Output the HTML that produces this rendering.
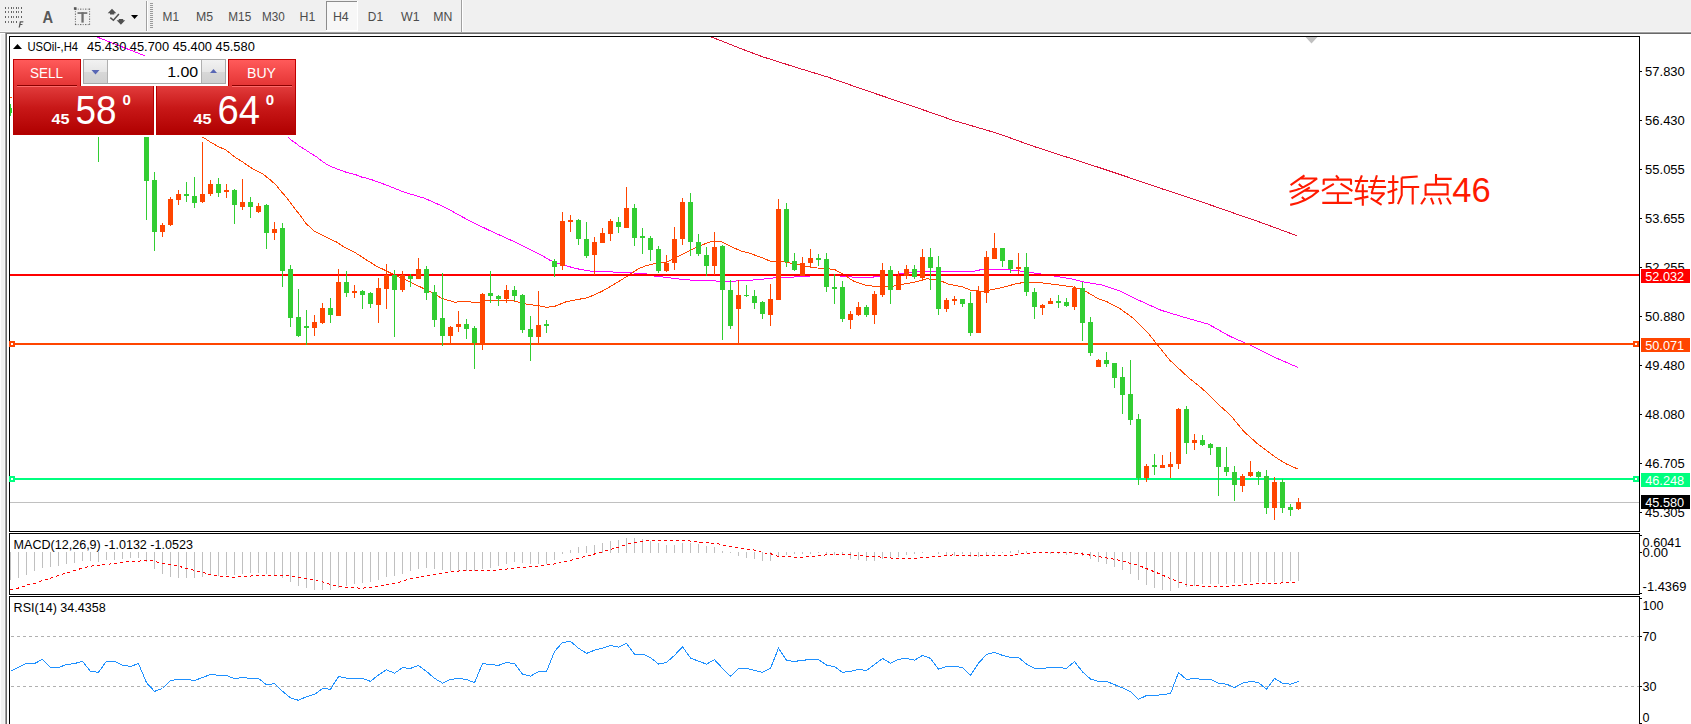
<!DOCTYPE html><html><head><meta charset="utf-8"><title>USOil H4</title><style>
html,body{margin:0;padding:0;background:#f0f0f0;overflow:hidden;width:1691px;height:724px;}
svg{display:block;font-family:"Liberation Sans", sans-serif;}
</style></head><body>
<svg width="1691" height="724" viewBox="0 0 1691 724">
<rect x="0" y="0" width="1691" height="724" fill="#f0f0f0"/>
<g shape-rendering="crispEdges">
<rect x="0" y="31" width="1691" height="1" fill="#f8f8f8"/>
<rect x="0" y="32" width="1691" height="1" fill="#a0a0a0"/>
<rect x="0" y="33" width="5" height="1" fill="#ffffff"/>
<rect x="6" y="33" width="1685" height="1" fill="#696969"/>
<rect x="5" y="32" width="1" height="692" fill="#a0a0a0"/>
<rect x="6" y="33" width="1" height="691" fill="#696969"/>
<rect x="4" y="34" width="1" height="690" fill="#f6f6f6"/>
<rect x="0" y="34" width="1" height="690" fill="#fcfcfc"/>
<rect x="7" y="34" width="1684" height="690" fill="#ffffff"/>
</g>
<g shape-rendering="crispEdges"><rect x="146" y="1" width="1" height="30" fill="#a0a0a0"/><rect x="147" y="1" width="1" height="30" fill="#ffffff"/><rect x="461" y="0" width="1" height="32" fill="#a0a0a0"/><rect x="462" y="0" width="1" height="32" fill="#ffffff"/><rect x="150" y="3" width="3" height="1" fill="#9a9a9a"/><rect x="150" y="5" width="3" height="1" fill="#9a9a9a"/><rect x="150" y="7" width="3" height="1" fill="#9a9a9a"/><rect x="150" y="9" width="3" height="1" fill="#9a9a9a"/><rect x="150" y="11" width="3" height="1" fill="#9a9a9a"/><rect x="150" y="13" width="3" height="1" fill="#9a9a9a"/><rect x="150" y="15" width="3" height="1" fill="#9a9a9a"/><rect x="150" y="17" width="3" height="1" fill="#9a9a9a"/><rect x="150" y="19" width="3" height="1" fill="#9a9a9a"/><rect x="150" y="21" width="3" height="1" fill="#9a9a9a"/><rect x="150" y="23" width="3" height="1" fill="#9a9a9a"/><rect x="150" y="25" width="3" height="1" fill="#9a9a9a"/><rect x="150" y="27" width="3" height="1" fill="#9a9a9a"/><rect x="326" y="1" width="32" height="30" fill="#ffffff"/><rect x="326" y="1" width="31" height="29" fill="#8c8c8c"/><rect x="327" y="2" width="30" height="28" fill="#f7f7f7"/></g>
<text x="162.5" y="21" font-size="12.3" fill="#4c4c4c" textLength="16.5" lengthAdjust="spacingAndGlyphs">M1</text>
<text x="196.1" y="21" font-size="12.3" fill="#4c4c4c" textLength="17.1" lengthAdjust="spacingAndGlyphs">M5</text>
<text x="228.3" y="21" font-size="12.3" fill="#4c4c4c" textLength="22.9" lengthAdjust="spacingAndGlyphs">M15</text>
<text x="262.1" y="21" font-size="12.3" fill="#4c4c4c" textLength="22.7" lengthAdjust="spacingAndGlyphs">M30</text>
<text x="299.5" y="21" font-size="12.3" fill="#4c4c4c" textLength="15.8" lengthAdjust="spacingAndGlyphs">H1</text>
<text x="332.9" y="21" font-size="12.3" fill="#4c4c4c" textLength="15.8" lengthAdjust="spacingAndGlyphs">H4</text>
<text x="367.8" y="21" font-size="12.3" fill="#4c4c4c" textLength="15.2" lengthAdjust="spacingAndGlyphs">D1</text>
<text x="401.0" y="21" font-size="12.3" fill="#4c4c4c" textLength="18.5" lengthAdjust="spacingAndGlyphs">W1</text>
<text x="433.2" y="21" font-size="12.3" fill="#4c4c4c" textLength="19.1" lengthAdjust="spacingAndGlyphs">MN</text>
<g><rect x="5" y="7" width="1" height="2" fill="#606060"/><rect x="8" y="7" width="1" height="2" fill="#808080"/><rect x="11" y="7" width="1" height="2" fill="#606060"/><rect x="13" y="7" width="1" height="2" fill="#808080"/><rect x="16" y="7" width="1" height="2" fill="#606060"/><rect x="18" y="7" width="1" height="2" fill="#808080"/><rect x="21" y="7" width="1" height="2" fill="#606060"/><rect x="5" y="11" width="1" height="2" fill="#606060"/><rect x="8" y="11" width="1" height="2" fill="#808080"/><rect x="11" y="11" width="1" height="2" fill="#606060"/><rect x="13" y="11" width="1" height="2" fill="#808080"/><rect x="16" y="11" width="1" height="2" fill="#606060"/><rect x="18" y="11" width="1" height="2" fill="#808080"/><rect x="21" y="11" width="1" height="2" fill="#606060"/><rect x="5" y="16" width="1" height="2" fill="#606060"/><rect x="8" y="16" width="1" height="2" fill="#808080"/><rect x="11" y="16" width="1" height="2" fill="#606060"/><rect x="13" y="16" width="1" height="2" fill="#808080"/><rect x="16" y="16" width="1" height="2" fill="#606060"/><rect x="18" y="16" width="1" height="2" fill="#808080"/><rect x="21" y="16" width="1" height="2" fill="#606060"/><rect x="5" y="21" width="1" height="2" fill="#606060"/><rect x="8" y="21" width="1" height="2" fill="#808080"/><rect x="11" y="21" width="1" height="2" fill="#606060"/><rect x="13" y="21" width="1" height="2" fill="#808080"/><rect x="16" y="21" width="1" height="2" fill="#606060"/></g>
<path d="M18.6,27.6 L19.8,21.2 L23.4,21.2 L23.2,22.4 L20.9,22.4 L20.6,24 L22.5,24 L22.3,25 L20.4,25 L19.9,27.6 Z" fill="#585858"/>
<text x="42.6" y="22.8" font-size="16.4" font-weight="bold" fill="#585858" textLength="10.6" lengthAdjust="spacingAndGlyphs">A</text>
<g><rect x="75.20" y="8.6" width="1.1" height="1.1" fill="#505050"/><rect x="75.20" y="24" width="1.1" height="1.1" fill="#505050"/><rect x="77.70" y="8.6" width="1.1" height="1.1" fill="#8a8a8a"/><rect x="77.70" y="24" width="1.1" height="1.1" fill="#8a8a8a"/><rect x="80.20" y="8.6" width="1.1" height="1.1" fill="#505050"/><rect x="80.20" y="24" width="1.1" height="1.1" fill="#505050"/><rect x="82.70" y="8.6" width="1.1" height="1.1" fill="#8a8a8a"/><rect x="82.70" y="24" width="1.1" height="1.1" fill="#8a8a8a"/><rect x="85.20" y="8.6" width="1.1" height="1.1" fill="#505050"/><rect x="85.20" y="24" width="1.1" height="1.1" fill="#505050"/><rect x="87.70" y="8.6" width="1.1" height="1.1" fill="#8a8a8a"/><rect x="87.70" y="24" width="1.1" height="1.1" fill="#8a8a8a"/><rect x="74.9" y="8.60" width="1.1" height="1.1" fill="#505050"/><rect x="89" y="8.60" width="1.1" height="1.1" fill="#505050"/><rect x="74.9" y="11.10" width="1.1" height="1.1" fill="#8a8a8a"/><rect x="89" y="11.10" width="1.1" height="1.1" fill="#8a8a8a"/><rect x="74.9" y="13.60" width="1.1" height="1.1" fill="#505050"/><rect x="89" y="13.60" width="1.1" height="1.1" fill="#505050"/><rect x="74.9" y="16.10" width="1.1" height="1.1" fill="#8a8a8a"/><rect x="89" y="16.10" width="1.1" height="1.1" fill="#8a8a8a"/><rect x="74.9" y="18.60" width="1.1" height="1.1" fill="#505050"/><rect x="89" y="18.60" width="1.1" height="1.1" fill="#505050"/><rect x="74.9" y="21.10" width="1.1" height="1.1" fill="#8a8a8a"/><rect x="89" y="21.10" width="1.1" height="1.1" fill="#8a8a8a"/><rect x="74.9" y="23.60" width="1.1" height="1.1" fill="#505050"/><rect x="89" y="23.60" width="1.1" height="1.1" fill="#505050"/></g>
<rect x="73.9" y="7.2" width="2.6" height="2.6" fill="#555"/>
<rect x="77.5" y="12.2" width="9.8" height="1.7" fill="#707070"/>
<rect x="81.4" y="12.2" width="2.3" height="10.4" fill="#707070"/>
<path d="M107.7,13.3 L112,8.7 L116.3,13.3 L114.3,13.3 L114.3,14.6 L110,14.6 L110,13.3 Z" fill="#505050"/>
<path d="M116.6,20.2 L118.8,20.2 L118.8,19 L123.2,19 L123.2,20.2 L125.2,20.2 L120.9,24.8 Z" fill="#505050"/>
<path d="M110.3,17.6 L113.4,20.3 L118.9,14" fill="none" stroke="#505050" stroke-width="1.5"/>
<path d="M131,14.9 L138.1,14.9 L134.55,18.9 Z" fill="#000"/>
<g shape-rendering="crispEdges">
<rect x="9.5" y="36.5" width="1630" height="495" fill="none" stroke="#000" stroke-width="1"/>
<rect x="9.5" y="533.5" width="1630" height="61" fill="none" stroke="#000" stroke-width="1"/>
<rect x="9.5" y="596.5" width="1630" height="140" fill="none" stroke="#000" stroke-width="1"/>
</g>
<g font-size="12.3" fill="#000">
<rect x="1640" y="71" width="2" height="1" fill="#000" shape-rendering="crispEdges"/>
<text x="1645.1" y="76" textLength="39.7" lengthAdjust="spacingAndGlyphs">57.830</text>
<rect x="1640" y="120" width="2" height="1" fill="#000" shape-rendering="crispEdges"/>
<text x="1645.1" y="125" textLength="39.7" lengthAdjust="spacingAndGlyphs">56.430</text>
<rect x="1640" y="169" width="2" height="1" fill="#000" shape-rendering="crispEdges"/>
<text x="1645.1" y="174" textLength="39.7" lengthAdjust="spacingAndGlyphs">55.055</text>
<rect x="1640" y="218" width="2" height="1" fill="#000" shape-rendering="crispEdges"/>
<text x="1645.1" y="223" textLength="39.7" lengthAdjust="spacingAndGlyphs">53.655</text>
<rect x="1640" y="267" width="2" height="1" fill="#000" shape-rendering="crispEdges"/>
<text x="1645.1" y="272" textLength="39.7" lengthAdjust="spacingAndGlyphs">52.255</text>
<rect x="1640" y="316" width="2" height="1" fill="#000" shape-rendering="crispEdges"/>
<text x="1645.1" y="321" textLength="39.7" lengthAdjust="spacingAndGlyphs">50.880</text>
<rect x="1640" y="365" width="2" height="1" fill="#000" shape-rendering="crispEdges"/>
<text x="1645.1" y="370" textLength="39.7" lengthAdjust="spacingAndGlyphs">49.480</text>
<rect x="1640" y="414" width="2" height="1" fill="#000" shape-rendering="crispEdges"/>
<text x="1645.1" y="419" textLength="39.7" lengthAdjust="spacingAndGlyphs">48.080</text>
<rect x="1640" y="463" width="2" height="1" fill="#000" shape-rendering="crispEdges"/>
<text x="1645.1" y="468" textLength="39.7" lengthAdjust="spacingAndGlyphs">46.705</text>
<rect x="1640" y="512" width="2" height="1" fill="#000" shape-rendering="crispEdges"/>
<text x="1645.1" y="517" textLength="39.7" lengthAdjust="spacingAndGlyphs">45.305</text>
</g>
<defs><clipPath id="cm"><rect x="10" y="37" width="1629" height="494"/></clipPath><clipPath id="cmacd"><rect x="10" y="534" width="1629" height="60"/></clipPath><clipPath id="crsi"><rect x="10" y="597" width="1629" height="127"/></clipPath></defs>
<g clip-path="url(#cm)" fill="none" stroke-width="1">
<polyline points="709.5,36.2 740.8,48.6 762.1,56.6 795.8,67.3 827.7,77.0 866.8,90.7 912.9,106.3 953.7,120.5 983.8,129.3 1000.0,134.2 1034.0,146.5 1066.2,156.9 1098.4,167.3 1132.5,178.7 1162.8,189.1 1194.9,199.5 1227.1,210.8 1257.4,221.2 1297.1,235.8" stroke="#dc143c" shape-rendering="crispEdges"/>
</g>
<g clip-path="url(#cm)" fill="none" stroke-width="1" shape-rendering="crispEdges">
<polyline points="288.3,137.3 291.6,140.4 295.8,143.3 299.5,146.2 304.9,149.5 308.2,151.7 312.3,154.4 316.1,156.5 319.8,159.4 323.5,162.3 328.9,165.6 333.9,167.7 338.0,169.4 346.3,172.3 351.3,173.5 357.1,175.2 362.0,177.2 367.8,178.5 372.8,180.1 378.6,182.2 384.4,184.3 404.3,192.2 425.0,198.4 445.7,207.7 466.4,219.1 487.2,229.4 507.9,238.8 521.9,245.3 539.7,254.2 550.3,260.4 557.4,263.1 575.1,268.4 592.9,271.6 610.6,271.9 628.4,272.8 644.3,273.4 654.2,276.0 671.9,278.1 686.1,279.9 702.1,280.4 719.8,281.2 732.2,281.2 755.3,279.9 774.8,277.8 796.1,276.9 817.4,275.5 835.1,275.5 844.0,276.4 861.7,277.8 870.6,277.3 879.5,276.4 897.2,274.1 915.0,271.9 930.0,271.3 973.8,271.3 983.2,269.2 1005.7,269.2 1012.8,270.3 1024.6,271.5 1038.8,273.7 1054.2,276.0 1071.9,279.0 1083.8,281.9 1101.5,284.9 1119.2,290.8 1136.6,299.3 1161.4,310.4 1189.0,318.7 1208.4,324.2 1230.5,336.6 1249.8,344.9 1274.7,357.3 1298.1,367.5" stroke="#ff00ff"/>
<polyline points="97.0,37.0 145.4,56.0" stroke="#ff00ff"/>
<polyline points="10.0,97.5 14.0,98.0 20.0,99.0 203.0,137.2 210.3,142.1 219.0,146.9 225.7,149.8 235.4,157.5 244.1,162.9 250.9,167.7 263.4,174.4 270.2,179.8 277.0,186.0 280.0,190.2 286.6,197.5 294.4,208.0 301.0,216.5 306.2,223.7 314.1,230.9 323.3,235.5 336.4,242.0 345.6,248.0 356.1,253.2 365.2,259.1 375.7,265.7 384.9,270.2 391.5,273.5 394.2,274.6 406.6,280.4 424.3,288.8 433.2,293.2 442.1,298.5 454.5,302.1 465.1,301.7 477.6,302.4 486.4,300.7 513.0,300.7 525.5,303.9 539.7,306.0 546.8,307.4 555.6,306.0 566.3,301.7 575.1,300.0 587.6,297.7 601.8,291.4 614.2,284.3 628.4,275.5 639.0,268.4 646.1,265.7 656.7,263.1 666.6,262.2 675.5,257.7 693.2,248.9 707.4,242.7 714.5,240.9 721.6,241.8 732.2,247.1 741.1,251.0 750.0,253.3 764.2,258.6 771.3,261.6 778.4,260.9 790.8,263.1 803.2,265.7 817.4,268.0 828.0,268.7 835.1,269.8 844.0,274.6 852.9,280.8 865.3,285.2 879.5,287.0 891.9,286.5 902.6,284.3 916.7,281.7 927.4,278.7 940.6,280.8 948.9,284.3 961.9,286.7 971.4,290.4 983.2,291.4 1001.0,287.8 1018.7,283.1 1036.4,282.2 1048.3,283.7 1060.1,285.2 1071.9,286.7 1083.8,290.2 1097.9,298.5 1107.4,302.0 1119.2,308.0 1133.8,318.7 1147.6,332.5 1158.7,346.3 1169.7,360.1 1189.0,378.0 1202.8,389.1 1216.7,402.9 1230.5,415.3 1244.3,431.9 1258.1,444.3 1274.7,456.7 1285.7,463.6 1298.1,469.2" stroke="#ff4500"/>
</g>
<g shape-rendering="crispEdges">
<rect x="10" y="274" width="1629" height="2" fill="#ff0000"/>
<rect x="10" y="343" width="1623" height="2" fill="#ff4500"/>
<rect x="10" y="478" width="1623" height="2" fill="#00ff7f"/>
<rect x="10" y="502" width="1629" height="1" fill="#c0c0c0"/>
</g>
<g shape-rendering="crispEdges" clip-path="url(#cm)"><rect x="10" y="104" width="1" height="12" fill="#32cd32"/><rect x="8" y="108" width="5" height="5" fill="#32cd32"/><rect x="98" y="120" width="1" height="42" fill="#32cd32"/><rect x="96" y="122" width="5" height="8" fill="#32cd32"/><rect x="146" y="120" width="1" height="100" fill="#32cd32"/><rect x="144" y="122" width="5" height="59" fill="#32cd32"/><rect x="154" y="172" width="1" height="79" fill="#32cd32"/><rect x="152" y="180" width="5" height="52" fill="#32cd32"/><rect x="162" y="223" width="1" height="14" fill="#ff4500"/><rect x="160" y="225" width="5" height="7" fill="#ff4500"/><rect x="170" y="197" width="1" height="29" fill="#ff4500"/><rect x="168" y="199" width="5" height="26" fill="#ff4500"/><rect x="178" y="190" width="1" height="15" fill="#ff4500"/><rect x="176" y="194" width="5" height="6" fill="#ff4500"/><rect x="186" y="182" width="1" height="20" fill="#32cd32"/><rect x="184" y="194" width="5" height="2" fill="#32cd32"/><rect x="194" y="177" width="1" height="31" fill="#32cd32"/><rect x="192" y="196" width="5" height="7" fill="#32cd32"/><rect x="202" y="142" width="1" height="61" fill="#ff4500"/><rect x="200" y="194" width="5" height="8" fill="#ff4500"/><rect x="210" y="180" width="1" height="16" fill="#ff4500"/><rect x="208" y="184" width="5" height="10" fill="#ff4500"/><rect x="218" y="178" width="1" height="19" fill="#32cd32"/><rect x="216" y="184" width="5" height="9" fill="#32cd32"/><rect x="226" y="184" width="1" height="14" fill="#ff4500"/><rect x="224" y="190" width="5" height="2" fill="#ff4500"/><rect x="234" y="189" width="1" height="35" fill="#32cd32"/><rect x="232" y="190" width="5" height="15" fill="#32cd32"/><rect x="242" y="179" width="1" height="31" fill="#ff4500"/><rect x="240" y="202" width="5" height="5" fill="#ff4500"/><rect x="250" y="197" width="1" height="21" fill="#32cd32"/><rect x="248" y="202" width="5" height="5" fill="#32cd32"/><rect x="258" y="203" width="1" height="10" fill="#ff4500"/><rect x="256" y="206" width="5" height="6" fill="#ff4500"/><rect x="266" y="204" width="1" height="45" fill="#32cd32"/><rect x="264" y="205" width="5" height="28" fill="#32cd32"/><rect x="274" y="222" width="1" height="18" fill="#ff4500"/><rect x="272" y="229" width="5" height="4" fill="#ff4500"/><rect x="282" y="223" width="1" height="64" fill="#32cd32"/><rect x="280" y="228" width="5" height="43" fill="#32cd32"/><rect x="290" y="265" width="1" height="62" fill="#32cd32"/><rect x="288" y="269" width="5" height="49" fill="#32cd32"/><rect x="298" y="289" width="1" height="48" fill="#32cd32"/><rect x="296" y="317" width="5" height="19" fill="#32cd32"/><rect x="306" y="310" width="1" height="35" fill="#32cd32"/><rect x="304" y="326" width="5" height="2" fill="#32cd32"/><rect x="314" y="315" width="1" height="21" fill="#ff4500"/><rect x="312" y="322" width="5" height="6" fill="#ff4500"/><rect x="322" y="303" width="1" height="21" fill="#ff4500"/><rect x="320" y="308" width="5" height="15" fill="#ff4500"/><rect x="330" y="298" width="1" height="25" fill="#32cd32"/><rect x="328" y="308" width="5" height="7" fill="#32cd32"/><rect x="338" y="269" width="1" height="47" fill="#ff4500"/><rect x="336" y="282" width="5" height="34" fill="#ff4500"/><rect x="346" y="271" width="1" height="26" fill="#32cd32"/><rect x="344" y="282" width="5" height="11" fill="#32cd32"/><rect x="354" y="285" width="1" height="13" fill="#ff4500"/><rect x="352" y="291" width="5" height="2" fill="#ff4500"/><rect x="362" y="290" width="1" height="19" fill="#32cd32"/><rect x="360" y="291" width="5" height="4" fill="#32cd32"/><rect x="370" y="292" width="1" height="16" fill="#32cd32"/><rect x="368" y="293" width="5" height="11" fill="#32cd32"/><rect x="378" y="278" width="1" height="45" fill="#ff4500"/><rect x="376" y="288" width="5" height="17" fill="#ff4500"/><rect x="386" y="264" width="1" height="45" fill="#ff4500"/><rect x="384" y="275" width="5" height="14" fill="#ff4500"/><rect x="394" y="270" width="1" height="67" fill="#32cd32"/><rect x="392" y="275" width="5" height="15" fill="#32cd32"/><rect x="402" y="271" width="1" height="21" fill="#ff4500"/><rect x="400" y="275" width="5" height="15" fill="#ff4500"/><rect x="410" y="274" width="1" height="13" fill="#32cd32"/><rect x="408" y="276" width="5" height="3" fill="#32cd32"/><rect x="418" y="258" width="1" height="21" fill="#ff4500"/><rect x="416" y="269" width="5" height="10" fill="#ff4500"/><rect x="426" y="266" width="1" height="34" fill="#32cd32"/><rect x="424" y="269" width="5" height="24" fill="#32cd32"/><rect x="434" y="285" width="1" height="42" fill="#32cd32"/><rect x="432" y="292" width="5" height="28" fill="#32cd32"/><rect x="442" y="273" width="1" height="73" fill="#32cd32"/><rect x="440" y="318" width="5" height="18" fill="#32cd32"/><rect x="450" y="326" width="1" height="17" fill="#ff4500"/><rect x="448" y="327" width="5" height="9" fill="#ff4500"/><rect x="458" y="311" width="1" height="21" fill="#ff4500"/><rect x="456" y="324" width="5" height="3" fill="#ff4500"/><rect x="466" y="319" width="1" height="20" fill="#32cd32"/><rect x="464" y="324" width="5" height="5" fill="#32cd32"/><rect x="474" y="326" width="1" height="43" fill="#32cd32"/><rect x="472" y="328" width="5" height="15" fill="#32cd32"/><rect x="482" y="293" width="1" height="57" fill="#ff4500"/><rect x="480" y="294" width="5" height="50" fill="#ff4500"/><rect x="490" y="271" width="1" height="32" fill="#32cd32"/><rect x="488" y="293" width="5" height="3" fill="#32cd32"/><rect x="498" y="295" width="1" height="11" fill="#32cd32"/><rect x="496" y="296" width="5" height="3" fill="#32cd32"/><rect x="506" y="285" width="1" height="18" fill="#ff4500"/><rect x="504" y="290" width="5" height="9" fill="#ff4500"/><rect x="514" y="286" width="1" height="15" fill="#32cd32"/><rect x="512" y="290" width="5" height="6" fill="#32cd32"/><rect x="522" y="294" width="1" height="39" fill="#32cd32"/><rect x="520" y="295" width="5" height="35" fill="#32cd32"/><rect x="530" y="316" width="1" height="45" fill="#32cd32"/><rect x="528" y="329" width="5" height="8" fill="#32cd32"/><rect x="538" y="291" width="1" height="52" fill="#ff4500"/><rect x="536" y="325" width="5" height="12" fill="#ff4500"/><rect x="546" y="320" width="1" height="13" fill="#32cd32"/><rect x="544" y="324" width="5" height="2" fill="#32cd32"/><rect x="554" y="259" width="1" height="18" fill="#32cd32"/><rect x="552" y="261" width="5" height="6" fill="#32cd32"/><rect x="562" y="212" width="1" height="58" fill="#ff4500"/><rect x="560" y="221" width="5" height="45" fill="#ff4500"/><rect x="570" y="215" width="1" height="17" fill="#ff4500"/><rect x="568" y="220" width="5" height="2" fill="#ff4500"/><rect x="578" y="219" width="1" height="26" fill="#32cd32"/><rect x="576" y="220" width="5" height="19" fill="#32cd32"/><rect x="586" y="222" width="1" height="36" fill="#32cd32"/><rect x="584" y="239" width="5" height="17" fill="#32cd32"/><rect x="594" y="237" width="1" height="38" fill="#ff4500"/><rect x="592" y="242" width="5" height="13" fill="#ff4500"/><rect x="602" y="228" width="1" height="15" fill="#ff4500"/><rect x="600" y="233" width="5" height="10" fill="#ff4500"/><rect x="610" y="219" width="1" height="22" fill="#ff4500"/><rect x="608" y="221" width="5" height="13" fill="#ff4500"/><rect x="618" y="217" width="1" height="16" fill="#32cd32"/><rect x="616" y="222" width="5" height="5" fill="#32cd32"/><rect x="626" y="187" width="1" height="41" fill="#ff4500"/><rect x="624" y="208" width="5" height="20" fill="#ff4500"/><rect x="634" y="204" width="1" height="42" fill="#32cd32"/><rect x="632" y="208" width="5" height="30" fill="#32cd32"/><rect x="642" y="228" width="1" height="26" fill="#32cd32"/><rect x="640" y="236" width="5" height="2" fill="#32cd32"/><rect x="650" y="236" width="1" height="25" fill="#32cd32"/><rect x="648" y="238" width="5" height="12" fill="#32cd32"/><rect x="658" y="246" width="1" height="27" fill="#32cd32"/><rect x="656" y="249" width="5" height="22" fill="#32cd32"/><rect x="666" y="255" width="1" height="17" fill="#ff4500"/><rect x="664" y="263" width="5" height="8" fill="#ff4500"/><rect x="674" y="227" width="1" height="43" fill="#ff4500"/><rect x="672" y="239" width="5" height="24" fill="#ff4500"/><rect x="682" y="198" width="1" height="47" fill="#ff4500"/><rect x="680" y="202" width="5" height="37" fill="#ff4500"/><rect x="690" y="193" width="1" height="63" fill="#32cd32"/><rect x="688" y="202" width="5" height="40" fill="#32cd32"/><rect x="698" y="234" width="1" height="22" fill="#32cd32"/><rect x="696" y="242" width="5" height="12" fill="#32cd32"/><rect x="706" y="247" width="1" height="29" fill="#32cd32"/><rect x="704" y="255" width="5" height="11" fill="#32cd32"/><rect x="714" y="232" width="1" height="43" fill="#ff4500"/><rect x="712" y="247" width="5" height="19" fill="#ff4500"/><rect x="722" y="245" width="1" height="95" fill="#32cd32"/><rect x="720" y="246" width="5" height="44" fill="#32cd32"/><rect x="730" y="280" width="1" height="49" fill="#32cd32"/><rect x="728" y="290" width="5" height="36" fill="#32cd32"/><rect x="738" y="280" width="1" height="63" fill="#ff4500"/><rect x="736" y="295" width="5" height="14" fill="#ff4500"/><rect x="746" y="285" width="1" height="12" fill="#32cd32"/><rect x="744" y="295" width="5" height="1" fill="#32cd32"/><rect x="754" y="290" width="1" height="19" fill="#32cd32"/><rect x="752" y="296" width="5" height="7" fill="#32cd32"/><rect x="762" y="301" width="1" height="18" fill="#32cd32"/><rect x="760" y="302" width="5" height="12" fill="#32cd32"/><rect x="770" y="284" width="1" height="42" fill="#ff4500"/><rect x="768" y="299" width="5" height="16" fill="#ff4500"/><rect x="778" y="199" width="1" height="101" fill="#ff4500"/><rect x="776" y="209" width="5" height="91" fill="#ff4500"/><rect x="786" y="203" width="1" height="64" fill="#32cd32"/><rect x="784" y="209" width="5" height="53" fill="#32cd32"/><rect x="794" y="253" width="1" height="18" fill="#32cd32"/><rect x="792" y="261" width="5" height="9" fill="#32cd32"/><rect x="802" y="257" width="1" height="19" fill="#ff4500"/><rect x="800" y="263" width="5" height="13" fill="#ff4500"/><rect x="810" y="249" width="1" height="19" fill="#ff4500"/><rect x="808" y="258" width="5" height="5" fill="#ff4500"/><rect x="818" y="254" width="1" height="12" fill="#32cd32"/><rect x="816" y="258" width="5" height="2" fill="#32cd32"/><rect x="826" y="253" width="1" height="39" fill="#32cd32"/><rect x="824" y="259" width="5" height="28" fill="#32cd32"/><rect x="834" y="274" width="1" height="30" fill="#32cd32"/><rect x="832" y="287" width="5" height="2" fill="#32cd32"/><rect x="842" y="281" width="1" height="41" fill="#32cd32"/><rect x="840" y="287" width="5" height="32" fill="#32cd32"/><rect x="850" y="311" width="1" height="18" fill="#ff4500"/><rect x="848" y="314" width="5" height="6" fill="#ff4500"/><rect x="858" y="302" width="1" height="14" fill="#ff4500"/><rect x="856" y="307" width="5" height="8" fill="#ff4500"/><rect x="866" y="305" width="1" height="12" fill="#32cd32"/><rect x="864" y="307" width="5" height="8" fill="#32cd32"/><rect x="874" y="291" width="1" height="33" fill="#ff4500"/><rect x="872" y="294" width="5" height="21" fill="#ff4500"/><rect x="882" y="263" width="1" height="34" fill="#ff4500"/><rect x="880" y="270" width="5" height="25" fill="#ff4500"/><rect x="890" y="266" width="1" height="38" fill="#32cd32"/><rect x="888" y="270" width="5" height="20" fill="#32cd32"/><rect x="898" y="271" width="1" height="19" fill="#ff4500"/><rect x="896" y="276" width="5" height="14" fill="#ff4500"/><rect x="906" y="265" width="1" height="14" fill="#ff4500"/><rect x="904" y="269" width="5" height="7" fill="#ff4500"/><rect x="914" y="265" width="1" height="14" fill="#32cd32"/><rect x="912" y="269" width="5" height="8" fill="#32cd32"/><rect x="922" y="249" width="1" height="31" fill="#ff4500"/><rect x="920" y="257" width="5" height="21" fill="#ff4500"/><rect x="930" y="248" width="1" height="42" fill="#32cd32"/><rect x="928" y="257" width="5" height="11" fill="#32cd32"/><rect x="938" y="256" width="1" height="59" fill="#32cd32"/><rect x="936" y="267" width="5" height="42" fill="#32cd32"/><rect x="946" y="298" width="1" height="14" fill="#ff4500"/><rect x="944" y="300" width="5" height="9" fill="#ff4500"/><rect x="954" y="296" width="1" height="9" fill="#ff4500"/><rect x="952" y="299" width="5" height="2" fill="#ff4500"/><rect x="962" y="299" width="1" height="8" fill="#32cd32"/><rect x="960" y="299" width="5" height="5" fill="#32cd32"/><rect x="970" y="292" width="1" height="44" fill="#32cd32"/><rect x="968" y="303" width="5" height="30" fill="#32cd32"/><rect x="978" y="286" width="1" height="47" fill="#ff4500"/><rect x="976" y="291" width="5" height="42" fill="#ff4500"/><rect x="986" y="251" width="1" height="52" fill="#ff4500"/><rect x="984" y="257" width="5" height="36" fill="#ff4500"/><rect x="994" y="233" width="1" height="26" fill="#ff4500"/><rect x="992" y="248" width="5" height="11" fill="#ff4500"/><rect x="1002" y="248" width="1" height="19" fill="#32cd32"/><rect x="1000" y="248" width="5" height="13" fill="#32cd32"/><rect x="1010" y="260" width="1" height="13" fill="#32cd32"/><rect x="1008" y="260" width="5" height="9" fill="#32cd32"/><rect x="1018" y="253" width="1" height="21" fill="#ff4500"/><rect x="1016" y="267" width="5" height="2" fill="#ff4500"/><rect x="1026" y="253" width="1" height="43" fill="#32cd32"/><rect x="1024" y="267" width="5" height="25" fill="#32cd32"/><rect x="1034" y="288" width="1" height="31" fill="#32cd32"/><rect x="1032" y="292" width="5" height="15" fill="#32cd32"/><rect x="1042" y="304" width="1" height="11" fill="#ff4500"/><rect x="1040" y="305" width="5" height="3" fill="#ff4500"/><rect x="1050" y="298" width="1" height="6" fill="#ff4500"/><rect x="1048" y="301" width="5" height="3" fill="#ff4500"/><rect x="1058" y="295" width="1" height="13" fill="#32cd32"/><rect x="1056" y="301" width="5" height="2" fill="#32cd32"/><rect x="1066" y="298" width="1" height="9" fill="#32cd32"/><rect x="1064" y="302" width="5" height="4" fill="#32cd32"/><rect x="1074" y="286" width="1" height="24" fill="#ff4500"/><rect x="1072" y="288" width="5" height="19" fill="#ff4500"/><rect x="1082" y="282" width="1" height="59" fill="#32cd32"/><rect x="1080" y="288" width="5" height="35" fill="#32cd32"/><rect x="1090" y="317" width="1" height="39" fill="#32cd32"/><rect x="1088" y="322" width="5" height="31" fill="#32cd32"/><rect x="1098" y="359" width="1" height="8" fill="#ff4500"/><rect x="1096" y="360" width="5" height="7" fill="#ff4500"/><rect x="1106" y="352" width="1" height="15" fill="#32cd32"/><rect x="1104" y="360" width="5" height="4" fill="#32cd32"/><rect x="1114" y="363" width="1" height="25" fill="#32cd32"/><rect x="1112" y="363" width="5" height="15" fill="#32cd32"/><rect x="1122" y="367" width="1" height="47" fill="#32cd32"/><rect x="1120" y="377" width="5" height="18" fill="#32cd32"/><rect x="1130" y="360" width="1" height="65" fill="#32cd32"/><rect x="1128" y="394" width="5" height="26" fill="#32cd32"/><rect x="1138" y="414" width="1" height="71" fill="#32cd32"/><rect x="1136" y="419" width="5" height="59" fill="#32cd32"/><rect x="1146" y="464" width="1" height="18" fill="#ff4500"/><rect x="1144" y="466" width="5" height="12" fill="#ff4500"/><rect x="1154" y="454" width="1" height="21" fill="#32cd32"/><rect x="1152" y="465" width="5" height="2" fill="#32cd32"/><rect x="1162" y="455" width="1" height="13" fill="#ff4500"/><rect x="1160" y="465" width="5" height="3" fill="#ff4500"/><rect x="1170" y="452" width="1" height="26" fill="#ff4500"/><rect x="1168" y="464" width="5" height="3" fill="#ff4500"/><rect x="1178" y="408" width="1" height="61" fill="#ff4500"/><rect x="1176" y="409" width="5" height="55" fill="#ff4500"/><rect x="1186" y="406" width="1" height="48" fill="#32cd32"/><rect x="1184" y="409" width="5" height="34" fill="#32cd32"/><rect x="1194" y="434" width="1" height="16" fill="#ff4500"/><rect x="1192" y="440" width="5" height="3" fill="#ff4500"/><rect x="1202" y="435" width="1" height="11" fill="#32cd32"/><rect x="1200" y="440" width="5" height="5" fill="#32cd32"/><rect x="1210" y="443" width="1" height="12" fill="#32cd32"/><rect x="1208" y="444" width="5" height="4" fill="#32cd32"/><rect x="1218" y="447" width="1" height="49" fill="#32cd32"/><rect x="1216" y="447" width="5" height="20" fill="#32cd32"/><rect x="1226" y="447" width="1" height="29" fill="#32cd32"/><rect x="1224" y="467" width="5" height="5" fill="#32cd32"/><rect x="1234" y="466" width="1" height="35" fill="#32cd32"/><rect x="1232" y="472" width="5" height="13" fill="#32cd32"/><rect x="1242" y="474" width="1" height="18" fill="#ff4500"/><rect x="1240" y="476" width="5" height="10" fill="#ff4500"/><rect x="1250" y="461" width="1" height="16" fill="#ff4500"/><rect x="1248" y="472" width="5" height="4" fill="#ff4500"/><rect x="1258" y="471" width="1" height="14" fill="#32cd32"/><rect x="1256" y="472" width="5" height="5" fill="#32cd32"/><rect x="1266" y="470" width="1" height="44" fill="#32cd32"/><rect x="1264" y="476" width="5" height="32" fill="#32cd32"/><rect x="1274" y="477" width="1" height="43" fill="#ff4500"/><rect x="1272" y="482" width="5" height="26" fill="#ff4500"/><rect x="1282" y="479" width="1" height="34" fill="#32cd32"/><rect x="1280" y="482" width="5" height="26" fill="#32cd32"/><rect x="1290" y="504" width="1" height="12" fill="#32cd32"/><rect x="1288" y="507" width="5" height="3" fill="#32cd32"/><rect x="1298" y="498" width="1" height="12" fill="#ff4500"/><rect x="1296" y="502" width="5" height="7" fill="#ff4500"/></g>
<g shape-rendering="crispEdges">
<rect x="9" y="341" width="6" height="6" fill="#ff4500"/><rect x="11" y="343" width="2" height="2" fill="#fff"/>
<rect x="1633" y="341" width="6" height="6" fill="#ff4500"/><rect x="1635" y="343" width="2" height="2" fill="#fff"/>
<rect x="9" y="476" width="6" height="6" fill="#00ff7f"/><rect x="11" y="478" width="2" height="2" fill="#fff"/>
<rect x="1633" y="476" width="6" height="6" fill="#00ff7f"/><rect x="1635" y="478" width="2" height="2" fill="#fff"/>
</g>
<path d="M1305.5,37 L1317.5,37 L1311.5,43.5 Z" fill="#c0c0c0"/>
<g shape-rendering="crispEdges">
<rect x="1641" y="269" width="49" height="14" fill="#ff0000"/>
<rect x="1641" y="338" width="49" height="14" fill="#ff4500"/>
<rect x="1641" y="473" width="49" height="14" fill="#00ff7f"/>
<rect x="1641" y="495" width="49" height="14" fill="#000000"/>
</g>
<g font-size="12.3" fill="#fff">
<text x="1645.2" y="281" textLength="39" lengthAdjust="spacingAndGlyphs">52.032</text>
<text x="1645.2" y="350" textLength="39" lengthAdjust="spacingAndGlyphs">50.071</text>
<text x="1645.2" y="485" textLength="39" lengthAdjust="spacingAndGlyphs">46.248</text>
<text x="1645.2" y="507" textLength="39" lengthAdjust="spacingAndGlyphs">45.580</text>
</g>
<path d="M13,49 L17.5,44 L22,49 Z" fill="#000"/>
<text x="27.5" y="51" font-size="12.3" fill="#000" textLength="50.6" lengthAdjust="spacingAndGlyphs">USOil-,H4</text>
<text x="87" y="51" font-size="12.3" fill="#000" textLength="167.8" lengthAdjust="spacingAndGlyphs">45.430 45.700 45.400 45.580</text>
<defs><linearGradient id="gbtn" x1="0" y1="0" x2="0" y2="1"><stop offset="0" stop-color="#ff5a5a"/><stop offset="1" stop-color="#e43434"/></linearGradient><linearGradient id="gbox" x1="0" y1="0" x2="0" y2="1"><stop offset="0" stop-color="#e23c3c"/><stop offset="0.45" stop-color="#c81818"/><stop offset="1" stop-color="#b00000"/></linearGradient><linearGradient id="gspin" x1="0" y1="0" x2="0" y2="1"><stop offset="0" stop-color="#f2f2f2"/><stop offset="0.5" stop-color="#e6e6e6"/><stop offset="0.5" stop-color="#d8d8d8"/><stop offset="1" stop-color="#d0d0d0"/></linearGradient></defs>
<g shape-rendering="crispEdges">
<rect x="12" y="57" width="286" height="80" fill="#ffffff"/>
<rect x="13" y="59" width="68" height="28" fill="#c00000"/>
<rect x="14" y="60" width="66" height="26" fill="url(#gbtn)"/>
<rect x="228" y="59" width="68" height="28" fill="#c00000"/>
<rect x="229" y="60" width="66" height="26" fill="url(#gbtn)"/>
<rect x="13" y="86" width="141" height="49" fill="#b80000"/>
<rect x="14" y="86" width="139" height="48" fill="url(#gbox)"/>
<rect x="156" y="86" width="140" height="49" fill="#b80000"/>
<rect x="157" y="86" width="138" height="48" fill="url(#gbox)"/>
<rect x="17" y="85" width="60" height="1" fill="#8b0000"/><rect x="17" y="86" width="60" height="1" fill="#ff6a6a"/>
<rect x="232" y="85" width="60" height="1" fill="#8b0000"/><rect x="232" y="86" width="60" height="1" fill="#ff6a6a"/>
<rect x="81" y="59" width="147" height="27" fill="#ffffff"/>
<rect x="83" y="59" width="143" height="25" fill="#a8a8a8"/>
<rect x="84" y="60" width="141" height="23" fill="#ffffff"/>
<rect x="84" y="60" width="23" height="23" fill="url(#gspin)"/>
<rect x="107" y="60" width="1" height="23" fill="#b0b0b0"/>
<rect x="201" y="60" width="1" height="23" fill="#b0b0b0"/>
<rect x="202" y="60" width="23" height="23" fill="url(#gspin)"/>
</g>
<path d="M91.5,70 L99.5,70 L95.5,74.5 Z" fill="#5866b4"/>
<path d="M210,73 L217,73 L213.5,69 Z" fill="#5866b4"/>
<text x="198.2" y="77" font-size="15.2" fill="#000" text-anchor="end" textLength="31" lengthAdjust="spacingAndGlyphs">1.00</text>
<text x="30" y="78" font-size="14.8" fill="#fff" textLength="33" lengthAdjust="spacingAndGlyphs">SELL</text>
<text x="247" y="78" font-size="14.8" fill="#fff" textLength="29" lengthAdjust="spacingAndGlyphs">BUY</text>
<g fill="#fff">
<text x="51.5" y="124" font-size="14.5" font-weight="bold" textLength="18" lengthAdjust="spacingAndGlyphs">45</text>
<text x="75.5" y="124.3" font-size="41.3" textLength="41" lengthAdjust="spacingAndGlyphs">58</text>
<text x="122.5" y="105" font-size="15" font-weight="bold">0</text>
<text x="193.5" y="124" font-size="14.5" font-weight="bold" textLength="18" lengthAdjust="spacingAndGlyphs">45</text>
<text x="217.5" y="124.3" font-size="41.3" textLength="42.5" lengthAdjust="spacingAndGlyphs">64</text>
<text x="265.8" y="105" font-size="15" font-weight="bold">0</text>
</g>
<path d="M1304.5,175.3 L1290.6,185.1 M1299.6,178.5 L1317,178.5 Q1305,188.5 1289.5,191.8 M1298.8,183.9 L1302.3,187.3 M1309.8,187.4 L1291.5,198.4 M1303.9,190.7 L1318.6,190.7 Q1307,201.5 1290.2,204.9 M1301.9,196.9 L1305.2,200.3 M1336,175.3 L1338.6,178.5 M1323.7,184.8 L1323.7,179.6 L1351,179.6 L1351,184.8 M1333.8,183.9 L1322,190.8 M1340.6,183.6 L1352.4,191 M1326.4,193.2 L1348.9,193.2 M1337.9,193.3 L1337.9,202.8 M1322.3,202.9 L1352.1,202.9 M1354.8,181 L1368.1,181 M1361.9,175.3 L1355.8,191.3 L1367.8,191.3 M1362.8,184.2 L1362.8,205.8 M1354.5,199.4 L1368.4,196.6 M1370.1,181 L1384.9,181 M1376.9,175.3 L1371.6,193.2 L1384.3,193.2 L1376.6,201.3 M1368.3,187 L1386.1,187 M1370.7,198.1 L1381.6,204.9 M1388.1,182 L1398.5,182 M1393.2,175.3 L1393.2,202.8 L1388.4,203.1 M1387.6,192.4 L1397.3,188.9 M1417.7,176.5 L1401.7,177.6 M1401.7,177.4 L1401.7,195.4 L1397.9,204.2 M1402,187 L1419.2,187 M1412.7,187 L1412.7,204.6 M1436,174.1 L1436,184.4 M1436,178.9 L1451.7,178.9 M1425.6,184.6 L1447.6,184.6 L1447.6,195.6 M1425.6,184.6 L1425.6,195.7 M1425.6,194.4 L1447.6,194.4 M1425.2,197.9 L1421.1,204.3 M1431,197.9 L1433.5,204.3 M1439,197.9 L1441.2,204.3 M1447,197.9 L1450.9,204.3" fill="none" stroke="#ff1a00" stroke-width="2.1" stroke-linecap="butt" stroke-linejoin="bevel"/>
<text x="1452.3" y="202" font-size="35.5" fill="#ff1a00" textLength="38.4" lengthAdjust="spacingAndGlyphs">46</text>
<text x="13.6" y="549" font-size="12.3" fill="#000" textLength="179.3" lengthAdjust="spacingAndGlyphs">MACD(12,26,9) -1.0132 -1.0523</text>
<g fill="#c0c0c0" shape-rendering="crispEdges" clip-path="url(#cmacd)"><rect x="10" y="552" width="1" height="28"/><rect x="18" y="552" width="1" height="26"/><rect x="26" y="552" width="1" height="23"/><rect x="34" y="552" width="1" height="19"/><rect x="42" y="552" width="1" height="16"/><rect x="50" y="552" width="1" height="15"/><rect x="58" y="552" width="1" height="14"/><rect x="66" y="552" width="1" height="12"/><rect x="74" y="552" width="1" height="11"/><rect x="82" y="552" width="1" height="9"/><rect x="90" y="552" width="1" height="9"/><rect x="98" y="552" width="1" height="10"/><rect x="106" y="552" width="1" height="8"/><rect x="114" y="552" width="1" height="8"/><rect x="122" y="552" width="1" height="7"/><rect x="130" y="552" width="1" height="6"/><rect x="138" y="552" width="1" height="6"/><rect x="146" y="552" width="1" height="10"/><rect x="154" y="552" width="1" height="17"/><rect x="162" y="552" width="1" height="22"/><rect x="170" y="552" width="1" height="25"/><rect x="178" y="552" width="1" height="26"/><rect x="186" y="552" width="1" height="26"/><rect x="194" y="552" width="1" height="26"/><rect x="202" y="552" width="1" height="25"/><rect x="210" y="552" width="1" height="23"/><rect x="218" y="552" width="1" height="24"/><rect x="226" y="552" width="1" height="23"/><rect x="234" y="552" width="1" height="23"/><rect x="242" y="552" width="1" height="22"/><rect x="250" y="552" width="1" height="21"/><rect x="258" y="552" width="1" height="21"/><rect x="266" y="552" width="1" height="22"/><rect x="274" y="552" width="1" height="23"/><rect x="282" y="552" width="1" height="26"/><rect x="290" y="552" width="1" height="30"/><rect x="298" y="552" width="1" height="34"/><rect x="306" y="552" width="1" height="36"/><rect x="314" y="552" width="1" height="38"/><rect x="322" y="552" width="1" height="38"/><rect x="330" y="552" width="1" height="38"/><rect x="338" y="552" width="1" height="36"/><rect x="346" y="552" width="1" height="34"/><rect x="354" y="552" width="1" height="32"/><rect x="362" y="552" width="1" height="31"/><rect x="370" y="552" width="1" height="30"/><rect x="378" y="552" width="1" height="28"/><rect x="386" y="552" width="1" height="25"/><rect x="394" y="552" width="1" height="24"/><rect x="402" y="552" width="1" height="22"/><rect x="410" y="552" width="1" height="19"/><rect x="418" y="552" width="1" height="17"/><rect x="426" y="552" width="1" height="16"/><rect x="434" y="552" width="1" height="17"/><rect x="442" y="552" width="1" height="18"/><rect x="450" y="552" width="1" height="19"/><rect x="458" y="552" width="1" height="19"/><rect x="466" y="552" width="1" height="19"/><rect x="474" y="552" width="1" height="19"/><rect x="482" y="552" width="1" height="17"/><rect x="490" y="552" width="1" height="16"/><rect x="498" y="552" width="1" height="14"/><rect x="506" y="552" width="1" height="12"/><rect x="514" y="552" width="1" height="10"/><rect x="522" y="552" width="1" height="11"/><rect x="530" y="552" width="1" height="12"/><rect x="538" y="552" width="1" height="12"/><rect x="546" y="552" width="1" height="12"/><rect x="554" y="552" width="1" height="8"/><rect x="562" y="552" width="1" height="2"/><rect x="570" y="550" width="1" height="3"/><rect x="578" y="547" width="1" height="6"/><rect x="586" y="546" width="1" height="7"/><rect x="594" y="545" width="1" height="8"/><rect x="602" y="543" width="1" height="10"/><rect x="610" y="541" width="1" height="12"/><rect x="618" y="540" width="1" height="13"/><rect x="626" y="538" width="1" height="15"/><rect x="634" y="538" width="1" height="15"/><rect x="642" y="539" width="1" height="14"/><rect x="650" y="541" width="1" height="12"/><rect x="658" y="543" width="1" height="10"/><rect x="666" y="545" width="1" height="8"/><rect x="674" y="545" width="1" height="8"/><rect x="682" y="543" width="1" height="10"/><rect x="690" y="543" width="1" height="10"/><rect x="698" y="544" width="1" height="9"/><rect x="706" y="546" width="1" height="7"/><rect x="714" y="547" width="1" height="6"/><rect x="722" y="551" width="1" height="2"/><rect x="730" y="552" width="1" height="1"/><rect x="738" y="552" width="1" height="4"/><rect x="746" y="552" width="1" height="6"/><rect x="754" y="552" width="1" height="7"/><rect x="762" y="552" width="1" height="9"/><rect x="770" y="552" width="1" height="9"/><rect x="778" y="552" width="1" height="4"/><rect x="786" y="552" width="1" height="3"/><rect x="794" y="552" width="1" height="2"/><rect x="802" y="552" width="1" height="2"/><rect x="810" y="552" width="1" height="2"/><rect x="818" y="552" width="1" height="1"/><rect x="826" y="552" width="1" height="2"/><rect x="834" y="552" width="1" height="3"/><rect x="842" y="552" width="1" height="3"/><rect x="850" y="552" width="1" height="7"/><rect x="858" y="552" width="1" height="8"/><rect x="866" y="552" width="1" height="9"/><rect x="874" y="552" width="1" height="9"/><rect x="882" y="552" width="1" height="7"/><rect x="890" y="552" width="1" height="5"/><rect x="898" y="552" width="1" height="5"/><rect x="906" y="552" width="1" height="3"/><rect x="914" y="552" width="1" height="2"/><rect x="922" y="552" width="1" height="1"/><rect x="938" y="552" width="1" height="2"/><rect x="946" y="552" width="1" height="3"/><rect x="954" y="552" width="1" height="4"/><rect x="962" y="552" width="1" height="2"/><rect x="970" y="552" width="1" height="5"/><rect x="978" y="552" width="1" height="5"/><rect x="986" y="552" width="1" height="4"/><rect x="994" y="552" width="1" height="1"/><rect x="1002" y="552" width="1" height="1"/><rect x="1010" y="551" width="1" height="2"/><rect x="1018" y="550" width="1" height="3"/><rect x="1026" y="551" width="1" height="2"/><rect x="1050" y="552" width="1" height="2"/><rect x="1058" y="552" width="1" height="2"/><rect x="1066" y="552" width="1" height="3"/><rect x="1074" y="552" width="1" height="3"/><rect x="1082" y="552" width="1" height="4"/><rect x="1090" y="552" width="1" height="7"/><rect x="1098" y="552" width="1" height="10"/><rect x="1106" y="552" width="1" height="12"/><rect x="1114" y="552" width="1" height="15"/><rect x="1122" y="552" width="1" height="18"/><rect x="1130" y="552" width="1" height="22"/><rect x="1138" y="552" width="1" height="28"/><rect x="1146" y="552" width="1" height="33"/><rect x="1154" y="552" width="1" height="36"/><rect x="1162" y="552" width="1" height="38"/><rect x="1170" y="552" width="1" height="39"/><rect x="1178" y="552" width="1" height="36"/><rect x="1186" y="552" width="1" height="35"/><rect x="1194" y="552" width="1" height="34"/><rect x="1202" y="552" width="1" height="32"/><rect x="1210" y="552" width="1" height="32"/><rect x="1218" y="552" width="1" height="32"/><rect x="1226" y="552" width="1" height="32"/><rect x="1234" y="552" width="1" height="31"/><rect x="1242" y="552" width="1" height="31"/><rect x="1250" y="552" width="1" height="30"/><rect x="1258" y="552" width="1" height="30"/><rect x="1266" y="552" width="1" height="30"/><rect x="1274" y="552" width="1" height="30"/><rect x="1282" y="552" width="1" height="30"/><rect x="1290" y="552" width="1" height="29"/><rect x="1298" y="552" width="1" height="29"/></g>
<polyline clip-path="url(#cmacd)" points="10.1,589.6 17.2,588.4 23.3,586.5 29.3,584.4 35.3,583.3 41.4,580.8 47.4,579.1 53.4,577.3 59.1,575.2 65.5,573.4 71.5,571.4 77.6,569.5 83.2,568.1 89.6,566.3 95.6,565.4 101.7,564.9 107.7,564.3 113.7,563.5 120.1,562.6 126.5,561.7 131.4,561.5 137.4,561.5 143.5,560.5 149.5,560.5 155.5,561.5 161.2,563.3 167.6,564.3 173.6,565.4 179.6,566.4 185.7,568.4 191.7,569.5 197.4,571.3 203.4,572.5 209.5,574.5 215.5,575.5 221.5,576.6 227.2,576.6 233.2,577.5 239.3,576.6 245.0,576.2 253.7,575.9 288.8,575.3 298.6,577.2 322.0,581.7 329.8,584.3 339.5,586.6 347.3,587.6 362.9,588.2 378.5,586.2 394.2,583.7 409.8,578.8 425.4,576.4 441.0,573.3 462.5,570.6 495.6,570.4 515.2,568.1 534.7,566.5 540.0,566.1 555.4,563.8 563.1,562.2 575.4,559.2 586.2,556.1 598.5,553.0 609.2,549.9 616.9,547.6 626.2,544.5 635.4,542.5 647.7,540.7 686.2,540.4 693.8,541.5 709.2,543.0 718.5,543.8 724.6,545.3 740.0,547.9 755.4,550.2 763.1,552.7 770.8,553.8 778.5,556.4 800.0,557.3 815.6,556.3 825.4,555.0 844.9,554.4 864.4,556.0 884.0,557.3 893.7,558.3 917.1,558.3 932.7,556.9 952.3,555.0 970.3,555.3 1011.7,555.3 1022.1,553.8 1038.7,552.4 1073.8,552.8 1088.3,554.8 1115.2,559.4 1138.0,565.2 1158.7,573.5 1175.3,580.7 1187.7,584.9 1208.4,586.9 1229.1,586.3 1249.8,584.2 1270.5,583.4 1297.4,582.4" fill="none" stroke="#ff0000" stroke-width="1" stroke-dasharray="3,3" shape-rendering="crispEdges"/>
<g font-size="12.3" fill="#000">
<rect x="1640" y="535" width="2" height="1" shape-rendering="crispEdges"/>
<text x="1642.6" y="547" textLength="38.8" lengthAdjust="spacingAndGlyphs">0.6041</text>
<rect x="1640" y="552" width="2" height="1" shape-rendering="crispEdges"/>
<text x="1642.6" y="557" textLength="25.5" lengthAdjust="spacingAndGlyphs">0.00</text>
<rect x="1640" y="593" width="2" height="1" shape-rendering="crispEdges"/>
<text x="1642.6" y="591" textLength="43.8" lengthAdjust="spacingAndGlyphs">-1.4369</text>
</g>
<text x="13.6" y="612" font-size="12.3" fill="#000" textLength="92.2" lengthAdjust="spacingAndGlyphs">RSI(14) 34.4358</text>
<g stroke="#b0b0b0" stroke-width="1" stroke-dasharray="3,3" shape-rendering="crispEdges">
<line x1="11" y1="636.5" x2="1639" y2="636.5"/>
<line x1="11" y1="686.5" x2="1639" y2="686.5"/>
</g>
<polyline clip-path="url(#crsi)" points="10.5,671.4 18.5,667.1 26.5,663.2 34.5,663.6 42.5,659.3 50.5,667.5 58.5,667.5 66.5,664.5 74.5,663.6 82.5,661.2 90.5,671.4 98.5,672.3 106.5,661.2 114.5,661.2 122.5,665.1 130.5,666.4 138.5,663.6 146.5,682.7 154.5,691.4 162.5,688.5 170.5,680.5 178.5,679.4 186.5,679.4 194.5,680.5 202.5,677.5 210.5,674.5 218.5,675.3 226.5,675.3 234.5,678.8 242.5,677.5 250.5,678.4 258.5,678.4 266.5,684.9 274.5,683.6 282.5,691.2 290.5,697.9 298.5,700.3 306.5,696.6 314.5,694.4 322.5,688.5 330.5,689.2 338.5,676.6 346.5,678.1 354.5,678.4 362.5,678.4 370.5,681.4 378.5,674.9 386.5,669.7 394.5,673.3 402.5,667.7 410.5,668.4 418.5,665.4 426.5,671.4 434.5,678.3 442.5,683.1 450.5,679.4 458.5,678.4 466.5,679.4 474.5,682.7 482.5,663.6 490.5,664.5 498.5,665.4 506.5,662.5 514.5,663.6 522.5,674.2 530.5,676.2 538.5,671.6 546.5,671.4 554.5,651.5 562.5,642.4 570.5,641.4 578.5,648.2 586.5,653.4 594.5,650.2 602.5,648.2 610.5,645.4 618.5,647.2 626.5,643.3 634.5,654.1 642.5,654.1 650.5,657.5 658.5,664.1 666.5,662.5 674.5,655.4 682.5,646.7 690.5,658.0 698.5,661.2 706.5,664.1 714.5,659.7 722.5,668.4 730.5,676.2 738.5,668.4 746.5,668.4 754.5,670.3 762.5,672.3 770.5,668.4 778.5,648.2 786.5,660.2 794.5,661.5 802.5,660.2 810.5,659.7 818.5,659.7 826.5,665.1 834.5,666.7 842.5,672.3 850.5,671.4 858.5,669.3 866.5,670.6 874.5,664.5 882.5,658.4 890.5,663.2 898.5,659.3 906.5,658.4 914.5,660.2 922.5,655.4 930.5,658.4 938.5,669.3 946.5,666.4 954.5,666.4 962.5,667.5 970.5,675.3 978.5,663.2 986.5,654.5 994.5,652.4 1002.5,655.4 1010.5,657.3 1018.5,657.3 1026.5,664.1 1034.5,668.4 1042.5,668.4 1050.5,667.5 1058.5,667.5 1066.5,668.4 1074.5,661.5 1082.5,671.9 1090.5,679.0 1098.5,681.4 1106.5,681.4 1114.5,684.6 1122.5,687.9 1130.5,691.7 1138.5,699.3 1146.5,695.6 1154.5,695.6 1162.5,694.6 1170.5,693.6 1178.5,672.6 1186.5,679.4 1194.5,678.5 1202.5,679.4 1210.5,679.4 1218.5,683.2 1226.5,684.2 1234.5,687.5 1242.5,683.2 1250.5,681.4 1258.5,682.5 1266.5,689.3 1274.5,678.5 1282.5,683.2 1290.5,684.2 1298.5,681.4" fill="none" stroke="#1e90ff" stroke-width="1" shape-rendering="crispEdges"/>
<g font-size="12.3" fill="#000">
<rect x="1640" y="598" width="2" height="1" shape-rendering="crispEdges"/>
<text x="1642.5" y="610" textLength="21.0" lengthAdjust="spacingAndGlyphs">100</text>
<rect x="1640" y="636" width="2" height="1" shape-rendering="crispEdges"/>
<text x="1642.5" y="641" textLength="14.0" lengthAdjust="spacingAndGlyphs">70</text>
<rect x="1640" y="686" width="2" height="1" shape-rendering="crispEdges"/>
<text x="1642.5" y="691" textLength="14.0" lengthAdjust="spacingAndGlyphs">30</text>
<rect x="1640" y="723" width="2" height="1" shape-rendering="crispEdges"/>
<text x="1642.5" y="722" textLength="7.0" lengthAdjust="spacingAndGlyphs">0</text>
</g>
</svg></body></html>
